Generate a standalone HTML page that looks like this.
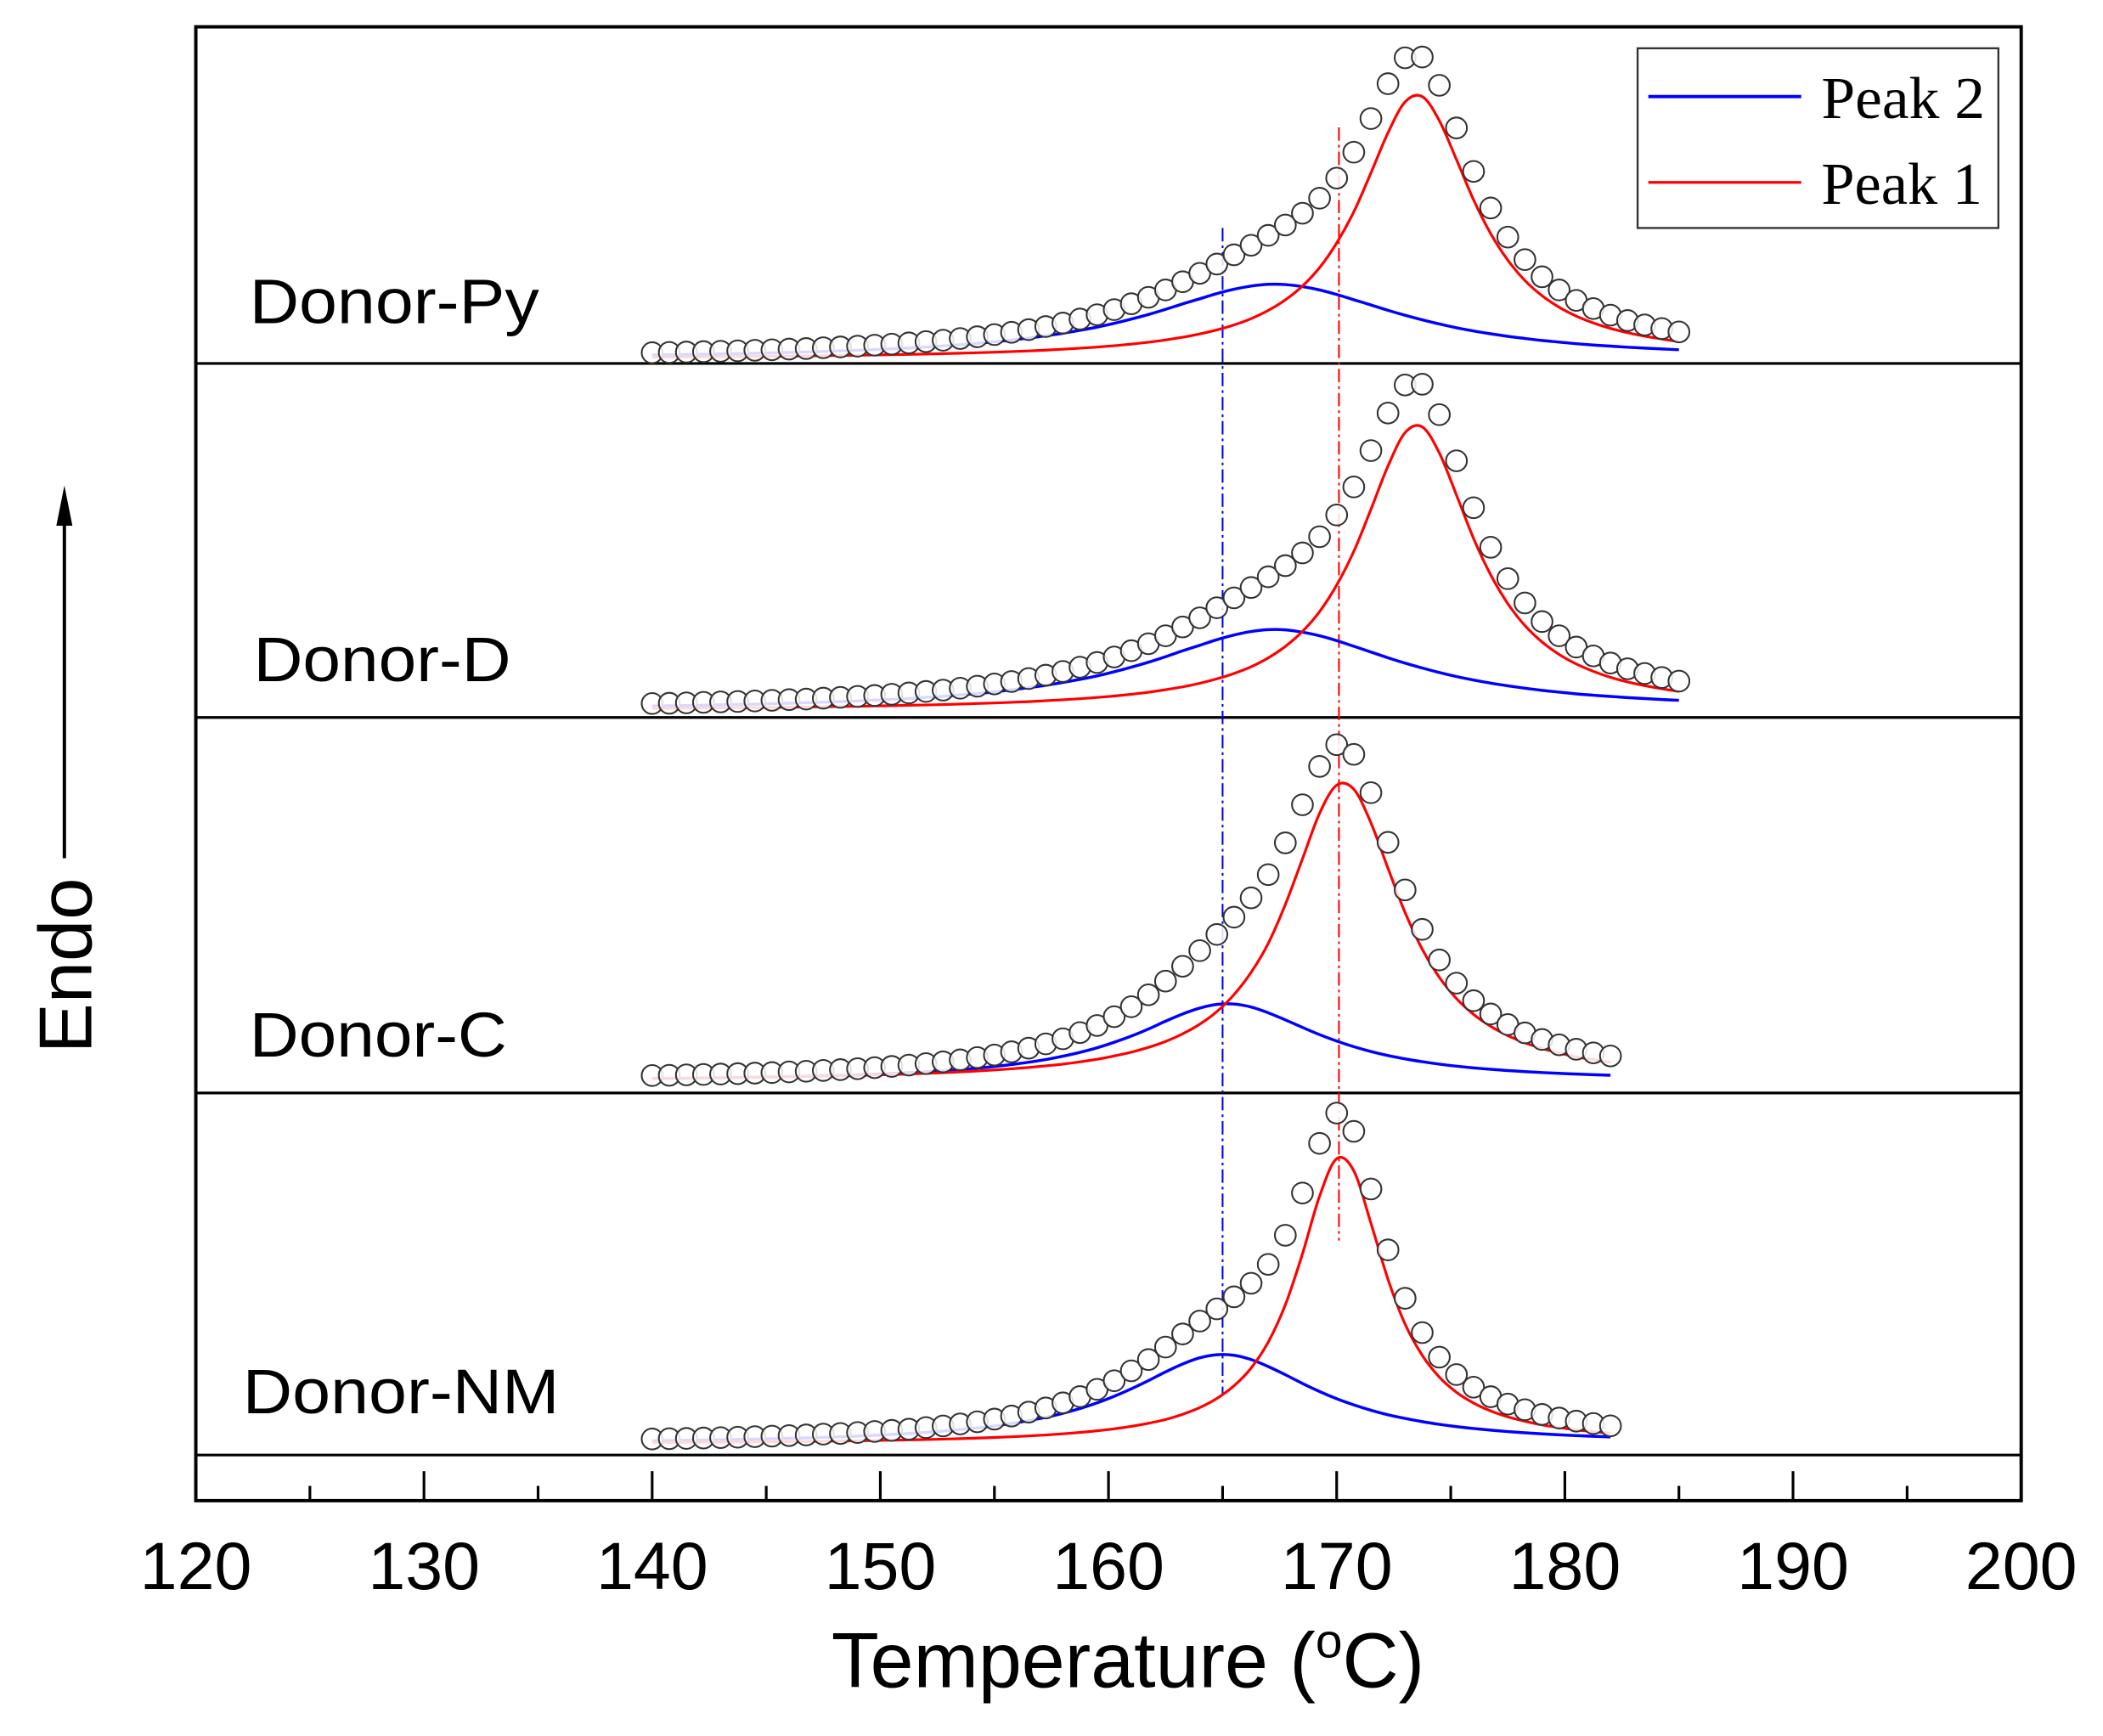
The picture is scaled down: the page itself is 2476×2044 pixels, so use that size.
<!DOCTYPE html>
<html><head><meta charset="utf-8"><style>
html,body{margin:0;padding:0;background:#fff;}
svg{display:block;}
</style></head><body>
<svg id="chart" width="2476" height="2044" viewBox="0 0 1568 1294.5" preserveAspectRatio="none" xmlns="http://www.w3.org/2000/svg" font-family="'Liberation Sans', sans-serif">
<rect x="0" y="0" width="1568" height="1294.5" fill="#fff"/>
<g id="marks"></g>
<rect x="146" y="20" width="1361" height="1099" fill="none" stroke="#000" stroke-width="2.5"/>
<g id="axis"></g>
<text x="841" y="1258" font-size="58" text-anchor="middle">Temperature (<tspan font-size="36" dy="-22">o</tspan><tspan dy="22">C)</tspan></text>
<g>
<text x="0" y="0" font-size="56" text-anchor="middle" transform="translate(68,720) rotate(-90)">Endo</text>
<line x1="48" y1="640" x2="48" y2="385" stroke="#000" stroke-width="2.5"/>
<polygon points="48,362 42,392 54,392" fill="#000"/>
</g>
<text x="186" y="241" font-size="47" textLength="216" lengthAdjust="spacingAndGlyphs">Donor-Py</text>
<text x="189" y="508" font-size="47" textLength="192" lengthAdjust="spacingAndGlyphs">Donor-D</text>
<text x="186" y="788" font-size="47" textLength="192" lengthAdjust="spacingAndGlyphs">Donor-C</text>
<text x="181" y="1054" font-size="47" textLength="236" lengthAdjust="spacingAndGlyphs">Donor-NM</text>
<g>
<rect x="1221" y="36" width="269" height="134" fill="#fff" stroke="#333" stroke-width="1.5"/>
<line x1="1229" y1="72" x2="1343" y2="72" stroke="#0000ff" stroke-width="2.5"/>
<text x="1358" y="88" font-size="44" font-family="'Liberation Serif', serif" textLength="122" lengthAdjust="spacingAndGlyphs">Peak 2</text>
<line x1="1229" y1="136" x2="1343" y2="136" stroke="#ff0000" stroke-width="2"/>
<text x="1358" y="152" font-size="44" font-family="'Liberation Serif', serif" textLength="120" lengthAdjust="spacingAndGlyphs">Peak 1</text>
</g>
</svg>
<script>
const xTicks = [120,130,140,150,160,170,180,190,200];
const xMinor = [125,135,145,155,165,175,185,195];
const T0 = 140, dT = 0.75;
const pyCircles = [5.0,5.2,5.5,5.8,6.1,6.4,6.8,7.2,7.7,8.1,8.7,9.3,9.9,10.6,11.4,12.3,13.3,14.3,15.6,16.9,18.5,20.2,22.2,24.5,27.1,30.1,33.3,37.1,41.5,46.3,51.8,57.9,64.2,71.1,78,85.1,92.5,100.2,109,120.2,135.2,154.5,179.6,205.6,224.9,225.5,204.4,172.6,140.2,112.9,91.2,74.4,61.6,51.8,44,37.9,33,29,25.7,23,20.5];
const pyPeak1 = [1.7,1.75,1.83,1.92,2.01,2.12,2.23,2.35,2.47,2.61,2.76,2.93,3.1,3.3,3.52,3.75,4.01,4.3,4.62,4.97,5.38,5.83,6.33,6.91,7.58,8.35,9.21,10.2,11.4,12.8,14.5,16.5,19,22,25.7,30.4,36.5,44.4,54.7,68.4,86.8,110,139,169,192,196,178,149,119,93.8,74,58.8,47.5,38.9,32.3,27.2,23.1,19.9,17.3,15.2,13.3];
const pyPeak2 = [3.3,3.46,3.64,3.84,4.07,4.31,4.58,4.87,5.18,5.53,5.91,6.33,6.8,7.31,7.89,8.52,9.24,10.04,10.94,11.96,13.1,14.4,15.9,17.6,19.5,21.7,24.1,26.9,30.1,33.5,37.3,41.4,45.2,49.1,52.3,54.7,56,55.8,54.3,51.8,48.4,44.5,40.6,36.6,32.9,29.5,26.4,23.6,21.2,19.1,17.2,15.6,14.1,12.9,11.7,10.7,9.9,9.1,8.4,7.8,7.2];
const dCircles = [5.4,5.6,5.9,6.3,6.6,6.9,7.3,7.8,8.3,8.7,9.4,10,10.7,11.4,12.3,13.3,14.4,15.4,16.8,18.3,20,21.8,24,26.5,29.3,32.5,36,40.1,44.8,50,55.9,62.5,69.3,76.8,84.2,91.9,99.9,108.2,117.7,129.8,146,166.9,194,222,242.9,243.5,220.8,186.4,151.4,121.9,98.5,80.4,66.5,55.9,47.5,40.9,35.6,31.3,27.8,24.8,22.1];
const dPeak1 = [1.8,1.9,2,2.1,2.2,2.3,2.4,2.5,2.7,2.8,3,3.2,3.3,3.6,3.8,4.1,4.3,4.6,5,5.4,5.8,6.3,6.8,7.5,8.2,9,9.9,11,12.3,13.8,15.7,17.8,20.5,23.8,27.8,32.8,39.4,48,59.1,73.9,93.7,118.8,150.1,182.5,207.4,211.7,192.2,160.9,128.5,101.3,79.9,63.5,51.3,42,34.9,29.4,24.9,21.5,18.7,16.4,14.4];
const dPeak2 = [3.6,3.7,3.9,4.1,4.4,4.7,4.9,5.3,5.6,6,6.4,6.8,7.3,7.9,8.5,9.2,10,10.8,11.8,12.9,14.1,15.6,17.2,19,21.1,23.4,26,29.1,32.5,36.2,40.3,44.7,48.8,53,56.5,59.1,60.5,60.3,58.6,55.9,52.3,48.1,43.8,39.5,35.5,31.9,28.5,25.5,22.9,20.6,18.6,16.8,15.2,13.9,12.6,11.6,10.7,9.8,9.1,8.4,7.8];
const cCircles = [4.5,4.7,5.0,5.3,5.6,5.9,6.3,6.7,7.2,7.7,8.3,8.9,9.6,10.4,11.3,12.3,13.4,14.7,16.2,17.9,19.8,22.2,24.9,28.1,31.9,36.5,41.8,48.4,55.8,64.7,74.9,86,97.6,109.7,122.6,137,154.3,178,206.4,235,251.2,244,215.4,178.4,142.9,113.5,90.7,73.4,60.3,50.4,42.5,36.3,31.4,27.4,24.1,21.4,19.1];
const cPeak1 = [2.27,2.38,2.51,2.64,2.79,2.94,3.11,3.3,3.5,3.73,3.97,4.24,4.53,4.87,5.23,5.65,6.11,6.62,7.22,7.88,8.64,9.49,10.5,11.7,13,14.7,16.6,19.1,21.9,25.5,29.9,35.6,42.8,52.2,64.8,81.4,103,132,166,200,221,218,193,159,126,98.7,77.7,61.9,50.1,41.2,34.3,28.9,24.7,21.3,18.5,16.3,14.4];
const cPeak2 = [2.2,2.33,2.47,2.62,2.8,2.99,3.2,3.43,3.69,3.97,4.3,4.64,5.04,5.5,6.02,6.61,7.28,8.06,8.95,10,11.2,12.7,14.4,16.4,18.9,21.8,25.2,29.3,33.9,39.2,45,50.4,54.8,57.5,57.8,55.6,51.3,46,40.4,35,30.2,26,22.4,19.4,16.9,14.8,13,11.5,10.2,9.15,8.23,7.43,6.73,6.12,5.6,5.13,4.72];
const nmCircles = [4.0,4.2,4.4,4.7,5.0,5.3,5.7,6.1,6.5,7.0,7.6,8.1,8.8,9.6,10.4,11.3,12.5,13.7,15.2,16.8,18.8,21.1,24,27.1,30.9,35.6,41,47.4,54.8,63.2,72.5,82.3,91.9,101,110,120.1,134.2,155.9,187.4,224.4,247,233.4,190.4,145,108.9,83.3,65,52,42.6,35.5,30,25.8,22.3,19.6,17.3,15.5,13.8];
const nmPeak1 = [1.32,1.38,1.46,1.54,1.62,1.71,1.81,1.92,2.04,2.18,2.32,2.48,2.65,2.85,3.07,3.31,3.58,3.89,4.24,4.64,5.11,5.63,6.25,6.98,7.82,8.85,10.1,11.6,13.4,15.7,18.5,22.4,27.4,34.2,43.6,56.9,76.2,104,142,185,213,204,165,123,89.6,66.4,50.1,38.8,30.8,24.9,20.5,17.2,14.5,12.5,10.8,9.47,8.33];
const nmPeak2 = [2.66,2.82,2.99,3.18,3.39,3.62,3.87,4.16,4.47,4.82,5.23,5.63,6.14,6.7,7.35,8.03,8.87,9.84,11,12.2,13.7,15.5,17.7,20.1,23.1,26.7,30.9,35.8,41.4,47.5,54,59.9,64.5,66.8,66.4,63.2,58,51.9,45.4,39.4,34,29.4,25.4,22,19.3,16.9,14.9,13.2,11.8,10.6,9.5,8.59,7.8,7.1,6.5,5.98,5.49];
const panelNames = ['py','d','c','nm'];
const panelZero = [268, 530, 806.5, 1077];
const panelSep = [271, 535, 815, 1085];
const refPeak2T = 165.0, refPeak1T = 170.1;

const X0=146, X1=1507, XMIN=120, XMAX=200;
function xs(t){return X0+(t-XMIN)*(X1-X0)/(XMAX-XMIN);}
function ys(v,p){return panelZero[p]-v;}
const NS='http://www.w3.org/2000/svg';
const marks=document.getElementById('marks');
const axis=document.getElementById('axis');
function mk(tag,attrs,parent){const e=document.createElementNS(NS,tag);for(const k in attrs)e.setAttribute(k,attrs[k]);parent.appendChild(e);return e;}
function smooth(pts){
  let d='M'+pts[0][0].toFixed(2)+','+pts[0][1].toFixed(2);
  for(let i=0;i<pts.length-1;i++){
    const p0=pts[Math.max(0,i-1)],p1=pts[i],p2=pts[i+1],p3=pts[Math.min(pts.length-1,i+2)];
    const c1x=p1[0]+(p2[0]-p0[0])/6,c1y=p1[1]+(p2[1]-p0[1])/6;
    const c2x=p2[0]-(p3[0]-p1[0])/6,c2y=p2[1]-(p3[1]-p1[1])/6;
    d+=' C'+c1x.toFixed(2)+','+c1y.toFixed(2)+' '+c2x.toFixed(2)+','+c2y.toFixed(2)+' '+p2[0].toFixed(2)+','+p2[1].toFixed(2);
  }
  return d;
}

const series=[[pyCircles,pyPeak1,pyPeak2],[dCircles,dPeak1,dPeak2],[cCircles,cPeak1,cPeak2],[nmCircles,nmPeak1,nmPeak2]];

panelSep.forEach((y,i)=>{
  const l=mk('line',{x1:X0,x2:X1,y1:y,y2:y,stroke:'#000','stroke-width':2},marks);
  
  
});
const rb=mk('line',{x1:xs(refPeak2T),x2:xs(refPeak2T),y1:170,y2:1040,stroke:'#0000ff','stroke-width':1.3,'stroke-dasharray':'10,3,2,3'},marks);


const rr=mk('line',{x1:xs(refPeak1T),x2:xs(refPeak1T),y1:95,y2:925,stroke:'#ff0000','stroke-width':1.3,'stroke-dasharray':'10,3,2,3'},marks);



series.forEach((s,p)=>{
  const [circ,p1,p2]=s;
  const pts=(arr)=>arr.map((v,i)=>[xs(T0+i*dT),ys(v,p)]);
  const b=mk('path',{d:smooth(pts(p2)),fill:'none',stroke:'#0000ff','stroke-width':2.2},marks);
  
  
  const r=mk('path',{d:smooth(pts(p1)),fill:'none',stroke:'#ff0000','stroke-width':2},marks);
  
  
  circ.forEach((v,i)=>{
    const c=mk('circle',{cx:xs(T0+i*dT),cy:ys(v,p),r:7.8,fill:'#fff','fill-opacity':0.85,stroke:'#333','stroke-width':1.3},marks);
    
    
  });
});

xTicks.forEach(t=>{
  const l=mk('line',{x1:xs(t),x2:xs(t),y1:1119,y2:1097,stroke:'#000','stroke-width':2},axis);
  
  
  const tx=mk('text',{x:xs(t),y:1185,'font-size':50,'text-anchor':'middle'},axis);
  tx.textContent=t;
  
  
});
xMinor.forEach(t=>{
  const l=mk('line',{x1:xs(t),x2:xs(t),y1:1119,y2:1108,stroke:'#000','stroke-width':2},axis);
  
  
});
</script>
</body></html>
